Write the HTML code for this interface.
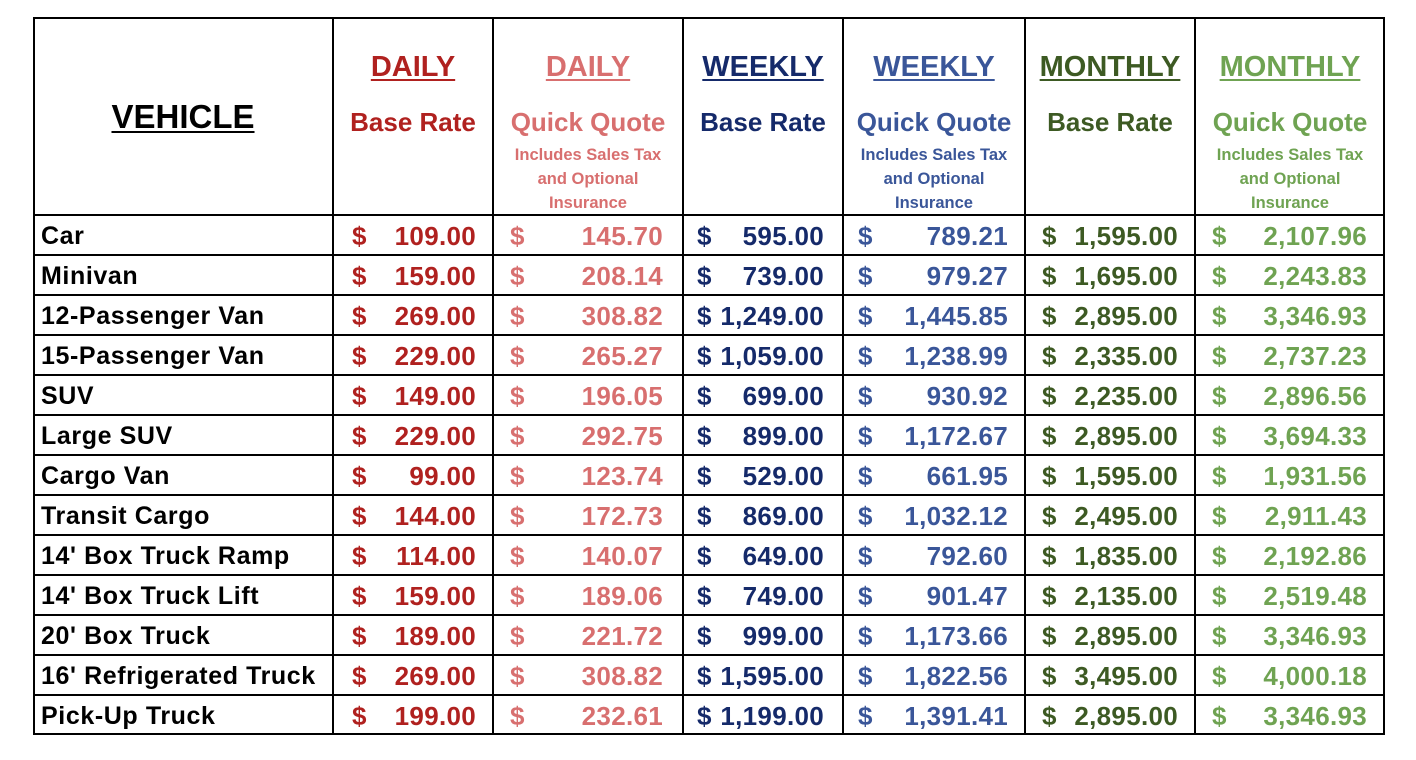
<!DOCTYPE html>
<html><head><meta charset="utf-8"><style>
body{margin:0;background:#fff;width:1416px;height:760px;position:relative;font-family:"Liberation Sans",sans-serif;font-weight:bold;overflow:hidden}
.t{position:absolute;left:33px;top:17px;width:1352px;height:718px;border:2px solid #000;box-sizing:border-box}
.v{position:absolute;top:17px;width:2px;height:718px;background:#000}
.h{position:absolute;left:33px;width:1352px;height:2px;background:#000}
.c{position:absolute;text-align:center;white-space:nowrap}
.r{position:absolute;font-size:26px;line-height:40px;height:40px;white-space:nowrap}
.n{letter-spacing:0.3px}
.c1{color:#b0211f}.c2{color:#d86f6f}.c3{color:#152a6a}.c4{color:#3a5699}.c5{color:#3d5a23}.c6{color:#6fa352}
u{text-decoration-thickness:2px;text-underline-offset:3px}
</style></head><body>
<div class="t"></div>
<div class="v" style="left:332px"></div><div class="v" style="left:492px"></div><div class="v" style="left:682px"></div><div class="v" style="left:842px"></div><div class="v" style="left:1024px"></div><div class="v" style="left:1194px"></div>
<div class="h" style="top:214px"></div><div class="h" style="top:254px"></div><div class="h" style="top:294px"></div><div class="h" style="top:334px"></div><div class="h" style="top:374px"></div><div class="h" style="top:414px"></div><div class="h" style="top:454px"></div><div class="h" style="top:494px"></div><div class="h" style="top:534px"></div><div class="h" style="top:574px"></div><div class="h" style="top:614px"></div><div class="h" style="top:654px"></div><div class="h" style="top:694px"></div>

<div class="c" style="left:33px;width:300px;top:98px;font-size:33px"><u>VEHICLE</u></div>

<div class="c c1" style="left:333px;width:160px;top:51px;font-size:29px"><u>DAILY</u></div>
<div class="c c1" style="left:333px;width:160px;top:107px;font-size:26px">Base Rate</div>
<div class="c c2" style="left:493px;width:190px;top:51px;font-size:29px"><u>DAILY</u></div>
<div class="c c2" style="left:493px;width:190px;top:107px;font-size:26px">Quick Quote</div>
<div class="c c2" style="left:493px;width:190px;top:143px;font-size:16.5px;line-height:24px">Includes Sales Tax<br>and Optional<br>Insurance</div>

<div class="c c3" style="left:683px;width:160px;top:51px;font-size:29px"><u>WEEKLY</u></div>
<div class="c c3" style="left:683px;width:160px;top:107px;font-size:26px">Base Rate</div>
<div class="c c4" style="left:843px;width:182px;top:51px;font-size:29px"><u>WEEKLY</u></div>
<div class="c c4" style="left:843px;width:182px;top:107px;font-size:26px">Quick Quote</div>
<div class="c c4" style="left:843px;width:182px;top:143px;font-size:16.5px;line-height:24px">Includes Sales Tax<br>and Optional<br>Insurance</div>

<div class="c c5" style="left:1025px;width:170px;top:51px;font-size:29px"><u>MONTHLY</u></div>
<div class="c c5" style="left:1025px;width:170px;top:107px;font-size:26px">Base Rate</div>
<div class="c c6" style="left:1195px;width:190px;top:51px;font-size:29px"><u>MONTHLY</u></div>
<div class="c c6" style="left:1195px;width:190px;top:107px;font-size:26px">Quick Quote</div>
<div class="c c6" style="left:1195px;width:190px;top:143px;font-size:16.5px;line-height:24px">Includes Sales Tax<br>and Optional<br>Insurance</div>

<div id="rows"></div>
<script>
var d=[["Car","109.00","145.70","595.00","789.21","1,595.00","2,107.96"],
["Minivan","159.00","208.14","739.00","979.27","1,695.00","2,243.83"],
["12-Passenger Van","269.00","308.82","1,249.00","1,445.85","2,895.00","3,346.93"],
["15-Passenger Van","229.00","265.27","1,059.00","1,238.99","2,335.00","2,737.23"],
["SUV","149.00","196.05","699.00","930.92","2,235.00","2,896.56"],
["Large SUV","229.00","292.75","899.00","1,172.67","2,895.00","3,694.33"],
["Cargo Van","99.00","123.74","529.00","661.95","1,595.00","1,931.56"],
["Transit Cargo","144.00","172.73","869.00","1,032.12","2,495.00","2,911.43"],
["14' Box Truck Ramp","114.00","140.07","649.00","792.60","1,835.00","2,192.86"],
["14' Box Truck Lift","159.00","189.06","749.00","901.47","2,135.00","2,519.48"],
["20' Box Truck","189.00","221.72","999.00","1,173.66","2,895.00","3,346.93"],
["16' Refrigerated Truck","269.00","308.82","1,595.00","1,822.56","3,495.00","4,000.18"],
["Pick-Up Truck","199.00","232.61","1,199.00","1,391.41","2,895.00","3,346.93"]];
var dl=[352,510,697,858,1042,1212],re=[476,663,824,1008,1178,1367];
var h="";
d.forEach(function(r,i){var t=216+40*i;
h+='<div class="r" style="left:41px;top:'+t+'px;font-size:25px;letter-spacing:0.6px">'+r[0]+'</div>';
for(var j=0;j<6;j++){h+='<div class="r c'+(j+1)+'" style="left:'+dl[j]+'px;top:'+t+'px">$</div>';
h+='<div class="r n c'+(j+1)+'" style="right:'+(1416-re[j])+'px;top:'+t+'px">'+r[j+1]+'</div>';}
});
document.getElementById("rows").innerHTML=h;
</script>
</body></html>
